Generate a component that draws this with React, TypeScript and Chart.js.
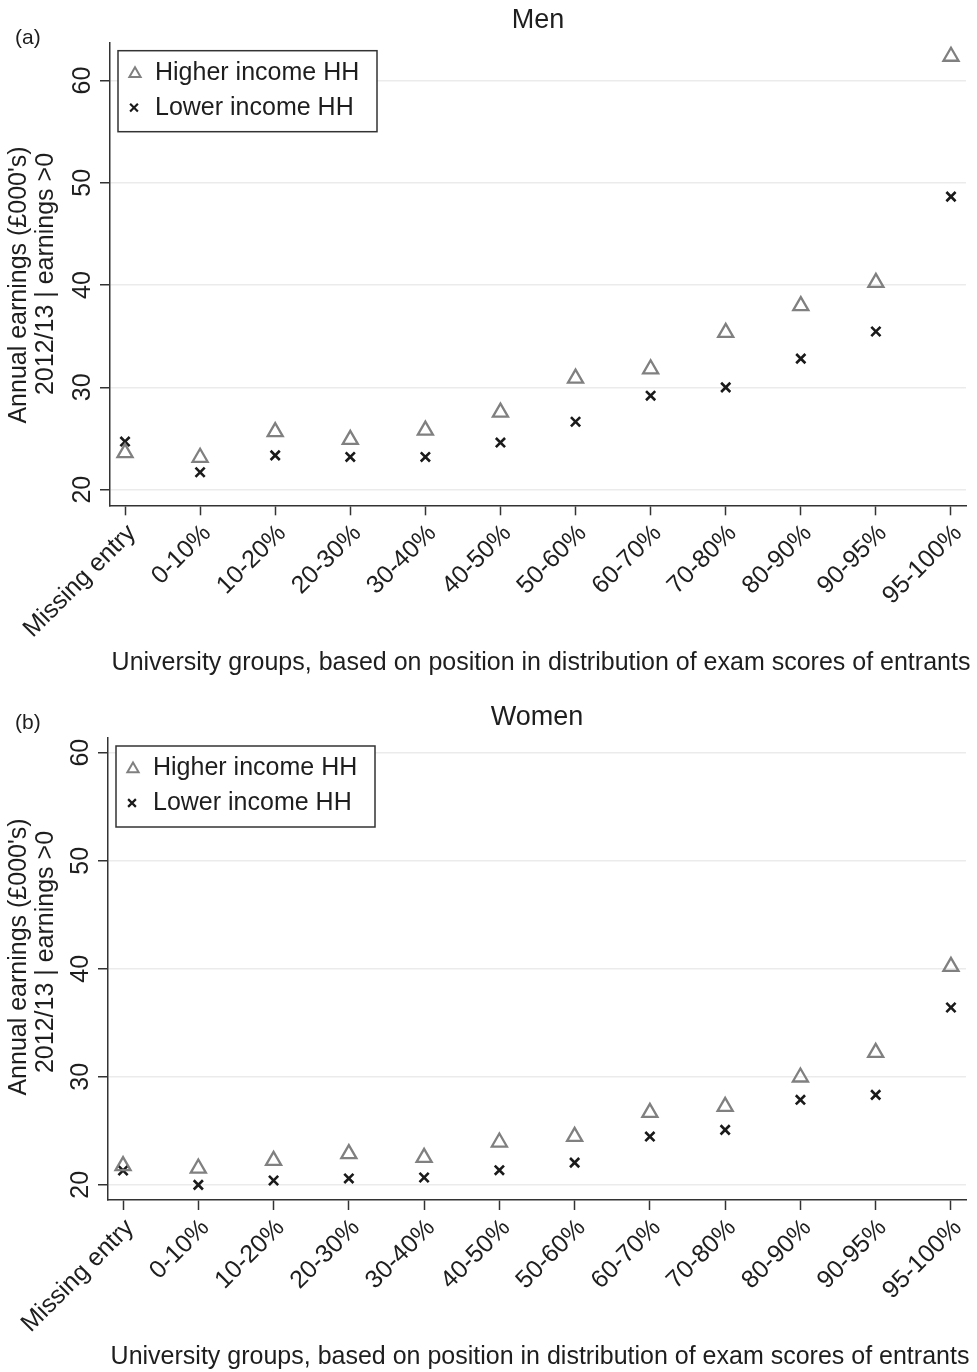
import React, { useEffect, useRef } from 'react';
import { Chart, registerables } from 'chart.js';

Chart.register(...registerables);

// University groups (x categories)
const categories = [
  'Missing entry', '0-10%', '10-20%', '20-30%', '30-40%', '40-50%',
  '50-60%', '60-70%', '70-80%', '80-90%', '90-95%', '95-100%',
];
const yTickValues = [20, 30, 40, 50, 60];
const seriesNames = ['Higher income HH', 'Lower income HH'];

// Annual earnings (£000's), 2012/13
const menHigher = [23.6, 23.15, 25.66, 24.9, 25.8, 27.56, 30.89, 31.8, 35.36, 37.97, 40.25, 62.36];
const menLower = [24.7, 21.7, 23.35, 23.2, 23.2, 24.6, 26.64, 29.19, 30.0, 32.81, 35.46, 48.65];
const womenHigher = [21.76, 21.54, 22.25, 22.87, 22.53, 23.95, 24.47, 26.69, 27.25, 29.97, 32.25, 40.21];
const womenLower = [21.33, 20.0, 20.4, 20.6, 20.68, 21.36, 22.06, 24.47, 25.09, 27.87, 28.33, 36.42];

const yTitleLines = ["Annual earnings (£000's)", '2012/13 | earnings >0'];
const xTitle = 'University groups, based on position in distribution of exam scores of entrants';

const FONT = '"Liberation Sans", Arial, Helvetica, sans-serif';
const TEXT = '#1e1e1e';
const AXIS = '#333333';
const TRI = '#808080';
const CROSS = '#1a1a1a';
const W = 977;
const H = 686;

type PanelSpec = {
  letter: string;
  title: string;
  higher: number[];
  lower: number[];
  yMin: number;
  yMax: number;
  padding: { left: number; top: number; right: number; bottom: number };
  letterY: number;
  titleY: number;
  xTitleY: number;
  yTitleDy: [number, number];
};

function drawTriangle(ctx: CanvasRenderingContext2D, x: number, y: number, r: number) {
  ctx.beginPath();
  for (let k = 0; k < 3; k++) {
    const a = (k * 2 * Math.PI) / 3;
    const px = x + Math.sin(a) * r;
    const py = y - Math.cos(a) * r;
    if (k === 0) ctx.moveTo(px, py);
    else ctx.lineTo(px, py);
  }
  ctx.closePath();
  ctx.strokeStyle = TRI;
  ctx.lineWidth = 2;
  ctx.stroke();
}

function drawCross(ctx: CanvasRenderingContext2D, x: number, y: number, r: number) {
  const d = r * Math.SQRT1_2;
  ctx.beginPath();
  ctx.moveTo(x - d, y - d);
  ctx.lineTo(x + d, y + d);
  ctx.moveTo(x - d, y + d);
  ctx.lineTo(x + d, y - d);
  ctx.strokeStyle = CROSS;
  ctx.lineWidth = 2.2;
  ctx.stroke();
}

function Panel({ spec }: { spec: PanelSpec }) {
  const ref = useRef<HTMLCanvasElement>(null);

  useEffect(() => {
    const canvas = ref.current;
    if (!canvas) return;

    const textPlugin = {
      id: 'panelText',
      afterDraw(chart: any) {
        const { ctx, chartArea: ca, scales } = chart;
        const xs = scales.x;
        const ys = scales.y;
        const cx = (ca.left + ca.right) / 2;
        const cy = (ca.top + ca.bottom) / 2;
        ctx.save();
        ctx.fillStyle = TEXT;
        ctx.textBaseline = 'middle';

        // panel letter and title
        ctx.font = `21px ${FONT}`;
        ctx.textAlign = 'left';
        ctx.fillText(spec.letter, 15, spec.letterY);
        ctx.font = `27px ${FONT}`;
        ctx.textAlign = 'center';
        ctx.fillText(spec.title, cx, spec.titleY);

        ctx.font = `25px ${FONT}`;
        // y tick labels (vertical)
        yTickValues.forEach((v) => {
          const y = ys.getPixelForValue(v);
          ctx.save();
          ctx.translate(ca.left - 27, y);
          ctx.rotate(-Math.PI / 2);
          ctx.textAlign = 'center';
          ctx.fillText(String(v), 0, 0);
          ctx.restore();
        });

        // y axis title, two lines
        const lineX = [19, 46];
        yTitleLines.forEach((line, i) => {
          ctx.save();
          ctx.translate(lineX[i], cy + spec.yTitleDy[i]);
          ctx.rotate(-Math.PI / 2);
          ctx.textAlign = 'center';
          ctx.fillText(line, 0, 0);
          ctx.restore();
        });

        // x tick labels at 45 degrees
        categories.forEach((c, i) => {
          const x = xs.getPixelForValue(i);
          ctx.save();
          ctx.translate(x + 7, ca.bottom + 24);
          ctx.rotate(-Math.PI / 4);
          ctx.textAlign = 'right';
          ctx.fillText(c, 0, 0);
          ctx.restore();
        });

        // x axis title
        ctx.textAlign = 'center';
        ctx.fillText(xTitle, cx + 3, spec.xTitleY);

        // legend box
        const bx = ca.left + 8;
        const by = ca.top + 8;
        ctx.fillStyle = '#ffffff';
        ctx.fillRect(bx, by, 259, 81);
        ctx.strokeStyle = AXIS;
        ctx.lineWidth = 1.5;
        ctx.strokeRect(bx, by, 259, 81);
        drawTriangle(ctx, bx + 17, by + 23, 6.5);
        drawCross(ctx, bx + 16, by + 57, 5.5);
        ctx.fillStyle = TEXT;
        ctx.textAlign = 'left';
        ctx.fillText(seriesNames[0], bx + 37, by + 22);
        ctx.fillText(seriesNames[1], bx + 37, by + 57);
        ctx.restore();
      },
    };

    const chart = new Chart(canvas, {
      type: 'scatter',
      data: {
        datasets: [
          {
            label: seriesNames[0],
            data: spec.higher.map((v, i) => ({ x: i, y: v })),
            pointStyle: 'triangle',
            pointRadius: 8.7,
            pointBorderColor: TRI,
            pointBackgroundColor: 'rgba(0,0,0,0)',
            pointBorderWidth: 2.3,
            borderColor: TRI,
            backgroundColor: 'rgba(0,0,0,0)',
          },
          {
            label: seriesNames[1],
            data: spec.lower.map((v, i) => ({ x: i, y: v })),
            pointStyle: 'crossRot',
            pointRadius: 6.5,
            pointBorderColor: CROSS,
            pointBackgroundColor: CROSS,
            pointBorderWidth: 2.6,
            borderColor: CROSS,
            backgroundColor: CROSS,
          },
        ],
      },
      options: {
        responsive: false,
        animation: false,
        events: [],
        layout: { padding: spec.padding },
        plugins: {
          legend: { display: false },
          title: { display: false },
          tooltip: { enabled: false },
        },
        scales: {
          x: {
            type: 'linear',
            min: -0.2,
            max: 11.2,
            afterBuildTicks: (s: any) => {
              s.ticks = categories.map((_, i) => ({ value: i }));
            },
            afterFit: (s: any) => {
              s.height = 10;
            },
            ticks: { display: false },
            grid: {
              drawOnChartArea: false,
              drawTicks: true,
              tickLength: 10,
              tickColor: AXIS,
              tickWidth: 1.5,
            },
            border: { display: true, color: AXIS, width: 1.5 },
          },
          y: {
            type: 'linear',
            min: spec.yMin,
            max: spec.yMax,
            afterBuildTicks: (s: any) => {
              s.ticks = yTickValues.map((v) => ({ value: v }));
            },
            afterFit: (s: any) => {
              s.width = 10;
            },
            ticks: { display: false },
            grid: {
              color: '#ebebeb',
              lineWidth: 1.5,
              drawTicks: true,
              tickLength: 10,
              tickColor: AXIS,
              tickWidth: 1.5,
            },
            border: { display: true, color: AXIS, width: 1.5 },
          },
        },
      },
      plugins: [textPlugin],
    } as any);

    return () => chart.destroy();
  }, [spec]);

  return <canvas ref={ref} width={W} height={H} style={{ display: 'block', width: W, height: H }} />;
}

const menPanel: PanelSpec = {
  letter: '(a)',
  title: 'Men',
  higher: menHigher,
  lower: menLower,
  yMin: 18.47,
  yMax: 63.7,
  padding: { left: 100, top: 42.7, right: 4, bottom: 170.7 },
  letterY: 38,
  titleY: 21,
  xTitleY: 663,
  yTitleDy: [11, 0],
};

const womenPanel: PanelSpec = {
  letter: '(b)',
  title: 'Women',
  higher: womenHigher,
  lower: womenLower,
  yMin: 18.6,
  yMax: 61.36,
  padding: { left: 98, top: 52, right: 6, bottom: 162 },
  letterY: 37,
  titleY: 32,
  xTitleY: 671,
  yTitleDy: [-12, -17],
};

export default function App() {
  return (
    <div
      style={{
        position: 'absolute',
        left: 0,
        top: 0,
        width: W,
        height: 1372,
        background: '#ffffff',
        overflow: 'hidden',
      }}
    >
      <Panel spec={menPanel} />
      <Panel spec={womenPanel} />
    </div>
  );
}
